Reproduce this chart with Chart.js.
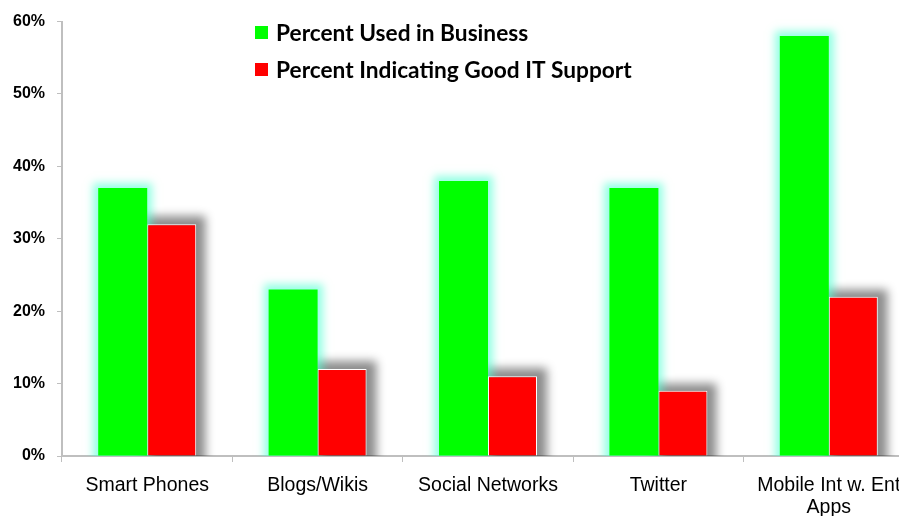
<!DOCTYPE html>
<html>
<head>
<meta charset="utf-8">
<script src="https://cdn.jsdelivr.net/npm/chart.js@4.4.0/dist/chart.umd.min.js"></script>
<style>
html,body{margin:0;padding:0;background:#fff;overflow:hidden;}
#wrap{position:relative;width:914px;height:516px;}
</style>
</head>
<body>
<div id="wrap"><canvas id="c"></canvas></div>
<script>
const categories = ['Smart Phones', 'Blogs/Wikis', 'Social Networks', 'Twitter', ['Mobile Int w. Ent', 'Apps']];
const usedInBusiness = [37, 23, 38, 37, 58];
const goodITSupport = [32, 12, 11, 9, 22];
const seriesNames = ['Percent Used in Business', 'Percent Indicating Good IT Support'];
const yTicks = [0, 10, 20, 30, 40, 50, 60];

const halos = [
  {color: 'rgba(80,255,210,0.6)', blur: 8, spread: 5, ox: 0, oy: 0},
  {color: 'rgba(0,0,0,0.45)', blur: 9, spread: 8, ox: 2, oy: 0}
];

const shadowPlugin = {
  id: 'barShadows',
  beforeDatasetsDraw(chart) {
    const ctx = chart.ctx;
    const ca = chart.chartArea;
    [1, 0].forEach(di => {
      const meta = chart.getDatasetMeta(di);
      const s = halos[di];
      const far = 5000;
      ctx.save();
      ctx.beginPath();
      ctx.rect(ca.left + 1, 0, chart.width, ca.bottom);
      ctx.clip();
      ctx.shadowColor = s.color;
      ctx.shadowBlur = s.blur;
      ctx.shadowOffsetX = far + s.ox;
      ctx.shadowOffsetY = s.oy;
      ctx.fillStyle = '#000';
      meta.data.forEach(el => {
        const p = el.getProps(['x','y','base','width'], true);
        const x0 = p.x - p.width/2 - s.spread;
        const y0 = p.y - s.spread;
        ctx.fillRect(x0 - far, y0, p.width + 2*s.spread, p.base - y0 + 20);
      });
      ctx.restore();
    });
  }
};

const legendPlugin = {
  id: 'customLegend',
  afterDraw(chart) {
    const ctx = chart.ctx;
    ctx.save();
    const rows = [33, 70];
    chart.data.datasets.forEach((ds, i) => {
      const y = rows[i];
      ctx.fillStyle = ds.backgroundColor;
      ctx.fillRect(255, y - 7, 13, 13);
      ctx.fillStyle = '#000';
      ctx.font = 'bold 22.7px Lato';
      ctx.textBaseline = 'middle';
      ctx.textAlign = 'left';
      ctx.fillText(ds.label, 276, y + 1);
    });
    ctx.restore();
  }
};

new Chart(document.getElementById('c'), {
  type: 'bar',
  data: {
    labels: categories,
    datasets: [
      {label: seriesNames[0], data: usedInBusiness, backgroundColor: '#00FF00', borderWidth: 0},
      {label: seriesNames[1], data: goodITSupport, backgroundColor: '#FF0000', borderColor: '#FFFFFF', borderWidth: 1}
    ]
  },
  options: {
    responsive: true,
    maintainAspectRatio: false,
    animation: false,
    layout: {padding: {top: 20, left: 0, right: 0, bottom: 0}},
    datasets: {bar: {barPercentage: 1, categoryPercentage: 0.575}},
    plugins: {legend: {display: false}, tooltip: {enabled: false}},
    scales: {
      x: {
        grid: {display: true, drawOnChartArea: false, drawTicks: true, tickLength: 6, color: '#BFBFBF', offset: true},
        border: {color: '#BFBFBF', width: 2},
        ticks: {color: '#000', font: {family: 'Liberation Sans', size: 19.5, lineHeight: 1.1}, padding: 13, maxRotation: 0, autoSkip: false},
        afterFit(s) { s.height = 60; }
      },
      y: {
        min: 0, max: 60,
        afterBuildTicks(s) { s.ticks = yTicks.map(v => ({value: v})); },
        grid: {display: true, drawOnChartArea: false, drawTicks: true, tickLength: 5, color: '#BFBFBF'},
        border: {color: '#BFBFBF', width: 2},
        ticks: {color: '#000', font: {family: 'Liberation Sans', size: 16, weight: 'bold'}, padding: 12, callback: v => v + '%'},
        afterFit(s) { s.width = 62; }
      }
    }
  },
  plugins: [shadowPlugin, legendPlugin]
});
</script>
</body>
</html>
